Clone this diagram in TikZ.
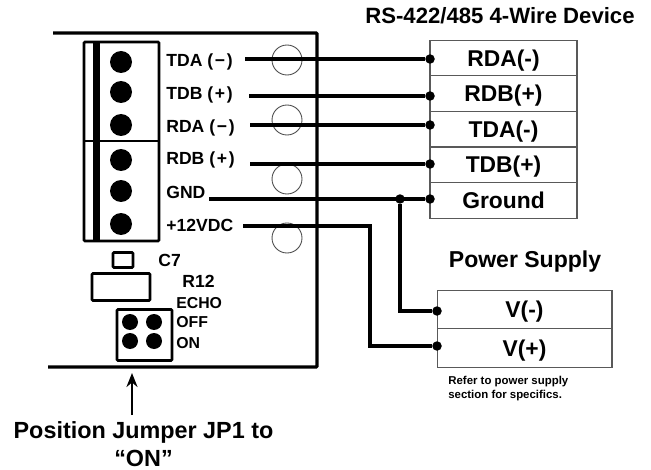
\documentclass[tikz,border=0pt]{standalone}
\usepackage{fontspec}
\setmainfont{Liberation Sans}
\usepackage{tikz}
\usetikzlibrary{arrows.meta}

\begin{document}
\begin{tikzpicture}[
     x = 0.02cm,
     y = -0.02cm,
     node distance = 0.712cm, % distance between table rows
     font = \bfseries
 ]

 \tikzstyle{row}=[
     draw = black!65,
     line width = 0.6pt,
     minimum width = 2.94cm,
     minimum height = 0.712cm,
     inner sep = 0pt,
     text height = 9.3pt,
     text depth = -1pt,
     font = \bfseries\fontsize{13}{15}\selectfont
 ]
 \tikzstyle{powerrow}=[
     row,
     minimum width = 3.5cm,
     minimum height = 0.77cm
 ]
 \tikzstyle{caption}=[
     font = \bfseries\fontsize{13.1}{16}\selectfont,
     align = center
 ]
 \tikzstyle{pinlabel}=[
     anchor = west,
     inner sep = 0pt,
     text height = 7.2pt,
     text depth = 0pt,
     font = \bfseries\fontsize{10}{12}\selectfont
 ]
 \tikzstyle{smalllabel}=[
     pinlabel,
     text height = 6.5pt,
     font = \bfseries\fontsize{9}{11}\selectfont
 ]
 \tikzstyle{pin}=[
     circle,
     fill = black,
     inner sep = 0pt,
     minimum size = 0.44cm
 ]
 \tikzstyle{jumperpin}=[pin, minimum size = 0.32cm]
 \tikzstyle{tie}=[pin, minimum size = 0.19cm]
 \tikzstyle{hole}=[
     circle,
     draw = black!70,
     line width = 0.5pt,
     inner sep = 0pt,
     minimum size = 0.6cm
 ]
 \tikzstyle{part}=[
     draw = black,
     line width = 1.5pt,
     rounded corners = 0.5pt
 ]
 \tikzstyle{wire}=[
     draw = black,
     line width = 1.8pt,
     line join = miter
 ]

 \useasboundingbox (0,0) rectangle (651,469);

 % holes go under the wires
 \node[hole] (h1) at (287,60) {};
 \node[hole] (h2) at (287,120) {};
 \node[hole] (h3) at (287,179) {};
 \node[hole] (h4) at (287,238) {};

 % board outline
 \coordinate (boardtl) at (53,33);
 \coordinate (boardtr) at (317,33);
 \coordinate (boardbr) at (317,367);
 \coordinate (boardbl) at (48,367);
 \draw[part, line width = 1.8pt] (boardtl) -- (boardtr) -- (boardbr) -- (boardbl);

 % terminal block
 \draw[part] (84,42) rectangle (159,241);
 \draw[part] (84,141) -- (159,141);
 \fill (93,42) rectangle (100,241);
 \node[pin] (t1) at (121,62) {};
 \node[pin] (t2) at (121,92) {};
 \node[pin] (t3) at (121,125) {};
 \node[pin] (t4) at (121,160) {};
 \node[pin] (t5) at (121,191) {};
 \node[pin] (t6) at (121,224) {};

 \node[pinlabel] (tda) at (166,60) {TDA (\kern1pt\textminus\kern1pt)};
 \node[pinlabel] (tdb) at (166,93) {TDB (\kern1pt+\kern1pt)};
 \node[pinlabel] (rda) at (166,126) {RDA (\kern1pt\textminus\kern1pt)};
 \node[pinlabel] (rdb) at (166,158) {RDB (\kern1pt+\kern1pt)};
 \node[pinlabel] (gnd) at (166,192) {GND};
 \node[pinlabel] (vdc) at (166,225) {+12VDC};

 % small parts
 \node[part, minimum width = 0.4cm, minimum height = 0.3cm, inner sep = 0pt] (c7) at (123,260) {};
 \node[part, minimum width = 1.16cm, minimum height = 0.54cm, inner sep = 0pt] (r12) at (121,287) {};
 \node[part, minimum width = 1.1cm, minimum height = 1.02cm, inner sep = 0pt] (jp1) at (144.5,335) {};
 \node[jumperpin] (j1) at (130,322) {};
 \node[jumperpin] (j2) at (154,322) {};
 \node[jumperpin] (j3) at (130,341) {};
 \node[jumperpin] (j4) at (154,341) {};
 \node[pinlabel] (c7l) at (158,260) {C7};
 \node[pinlabel] (r12l) at (182,281) {R12};
 \node[smalllabel] (echo) at (176,303) {ECHO};
 \node[smalllabel] (off) at (176,322) {OFF};
 \node[smalllabel] (on) at (176,343) {ON};

 % device table
 \node[caption, font = \bfseries\fontsize{12.6}{15}\selectfont] (devtitle) at (500,16) {RS-422/485 4-Wire Device};
 \node[row] (rdam) at (503.5,58) {RDA(-)};
 \node[row] (rdbp) [below of=rdam] {RDB(+)};
 \node[row] (tdam) [below of=rdbp] {TDA(-)};
 \node[row] (tdbp) [below of=tdam] {TDB(+)};
 \node[row] (ground) [below of=tdbp] {Ground};

 % power table
 \node[caption] (powtitle) at (525,262) {Power Supply};
 \node[powerrow] (vm) at (524.5,309.5) {V(-)};
 \node[powerrow] (vp) [below of=vm, node distance = 0.77cm] {V(+)};
 \node[font = \bfseries\fontsize{6.5}{8}\selectfont, align = left, anchor = north west, inner sep = 0pt] (note) at (448,376) {Refer to power supply\\section for specifics.};

 % wire ends
 \coordinate (w1) at (245,59);
 \coordinate (w2) at (249,96);
 \coordinate (w3) at (250,125);
 \coordinate (w4) at (250,164);
 \coordinate (w5) at (209,199);
 \coordinate (w6) at (243,226);
 \node[tie] (p1) at (430,59) {};
 \node[tie] (p2) at (430,96) {};
 \node[tie] (p3) at (430,125) {};
 \node[tie] (p4) at (430,164) {};
 \node[tie] (p5) at (430,199) {};
 \node[tie] (tiegnd) at (400,199) {};
 \node[tie] (pm) at (437,311) {};
 \node[tie] (pp) at (437,346) {};

 \draw[wire] (w1) -- (p1);
 \draw[wire] (w2) -- (p2);
 \draw[wire] (w3) -- (p3);
 \draw[wire] (w4) -- (p4);
 \draw[wire] (w5) -- (p5);
 \draw[wire] (tiegnd) |- (pm);
 \draw[wire] (w6) -| (370,346) -- (pp);

 % jumper note
 \node[caption, font = \bfseries\fontsize{13.3}{16}\selectfont] (jptext) at (143.5,444) {Position Jumper JP1 to\\``ON''};
 \coordinate (arrowend) at (132,415);
 \coordinate (arrowtip) at (132,373);
 \draw[-{Stealth[length = 0.28cm, width = 0.22cm]}, line width = 1.3pt] (arrowend) -- (arrowtip);
\end{tikzpicture}
\end{document}
